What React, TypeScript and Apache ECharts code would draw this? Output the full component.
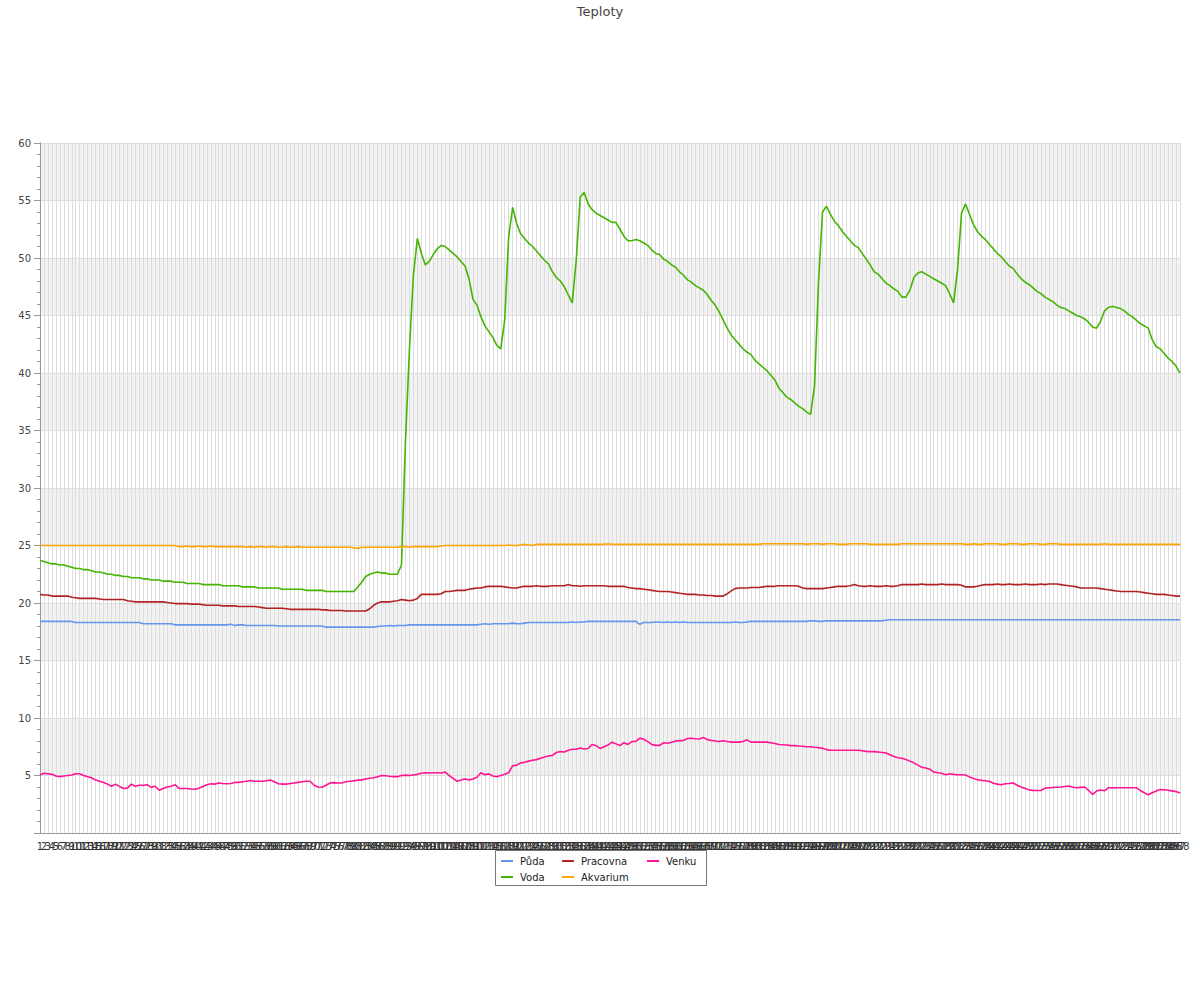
import React, { useEffect, useRef } from "react";
import * as echarts from "echarts";

const categories: string[] = Array.from({ length: 288 }, (_, i) => String(i + 1));

const seriesNames = ["Půda", "Voda", "Pracovna", "Akvarium", "Venku"];
const seriesColors = ["#6495ED", "#44B500", "#B22222", "#FFA500", "#FF1493"];

const puda = [
  18.4, 18.4, 18.4, 18.4, 18.4, 18.4, 18.4, 18.4, 18.4, 18.3,
  18.3, 18.3, 18.3, 18.3, 18.3, 18.3, 18.3, 18.3, 18.3, 18.3,
  18.3, 18.3, 18.3, 18.3, 18.3, 18.3, 18.2, 18.2, 18.2, 18.2,
  18.2, 18.2, 18.2, 18.2, 18.1, 18.1, 18.1, 18.1, 18.1, 18.1,
  18.1, 18.1, 18.1, 18.1, 18.1, 18.1, 18.1, 18.1, 18.15, 18.05,
  18.1, 18.1, 18.05, 18.05, 18.05, 18.05, 18.05, 18.05, 18.05, 18.05,
  18.0, 18.0, 18.0, 18.0, 18.0, 18.0, 18.0, 18.0, 18.0, 18.0,
  18.0, 18.0, 17.9, 17.9, 17.9, 17.9, 17.9, 17.9, 17.9, 17.9,
  17.9, 17.9, 17.9, 17.9, 17.9, 17.95, 18.0, 18.0, 18.05, 18.0,
  18.05, 18.05, 18.05, 18.1, 18.1, 18.1, 18.1, 18.1, 18.1, 18.1,
  18.1, 18.1, 18.1, 18.1, 18.1, 18.1, 18.1, 18.1, 18.1, 18.1,
  18.1, 18.15, 18.2, 18.15, 18.2, 18.2, 18.2, 18.2, 18.2, 18.25,
  18.2, 18.2, 18.25, 18.3, 18.3, 18.3, 18.3, 18.3, 18.3, 18.3,
  18.3, 18.3, 18.3, 18.3, 18.35, 18.3, 18.35, 18.35, 18.4, 18.4,
  18.4, 18.4, 18.4, 18.4, 18.4, 18.4, 18.4, 18.4, 18.4, 18.4,
  18.4, 18.15, 18.3, 18.3, 18.3, 18.35, 18.35, 18.3, 18.35, 18.3,
  18.35, 18.3, 18.35, 18.3, 18.3, 18.3, 18.3, 18.3, 18.3, 18.3,
  18.3, 18.3, 18.3, 18.3, 18.3, 18.35, 18.3, 18.3, 18.35, 18.4,
  18.4, 18.4, 18.4, 18.4, 18.4, 18.4, 18.4, 18.4, 18.4, 18.4,
  18.4, 18.4, 18.4, 18.4, 18.45, 18.45, 18.4, 18.4, 18.45, 18.45,
  18.45, 18.45, 18.45, 18.45, 18.45, 18.45, 18.45, 18.45, 18.45, 18.45,
  18.45, 18.45, 18.45, 18.5, 18.55, 18.55, 18.55, 18.55, 18.55, 18.55,
  18.55, 18.55, 18.55, 18.55, 18.55, 18.55, 18.55, 18.55, 18.55, 18.55,
  18.55, 18.55, 18.55, 18.55, 18.55, 18.55, 18.55, 18.55, 18.55, 18.55,
  18.55, 18.55, 18.55, 18.55, 18.55, 18.55, 18.55, 18.55, 18.55, 18.55,
  18.55, 18.55, 18.55, 18.55, 18.55, 18.55, 18.55, 18.55, 18.55, 18.55,
  18.55, 18.55, 18.55, 18.55, 18.55, 18.55, 18.55, 18.55, 18.55, 18.55,
  18.55, 18.55, 18.55, 18.55, 18.55, 18.55, 18.55, 18.55, 18.55, 18.55,
  18.55, 18.55, 18.55, 18.55, 18.55, 18.55, 18.55, 18.55,
];

const voda = [
  23.7, 23.6, 23.5, 23.4, 23.4, 23.3, 23.3, 23.2, 23.1, 23.0,
  23.0, 22.9, 22.9, 22.8, 22.7, 22.7, 22.6, 22.5, 22.5, 22.4,
  22.4, 22.3, 22.3, 22.2, 22.2, 22.2, 22.1, 22.1, 22.0, 22.0,
  22.0, 21.9, 21.9, 21.9, 21.8, 21.8, 21.8, 21.7, 21.7, 21.7,
  21.7, 21.6, 21.6, 21.6, 21.6, 21.6, 21.5, 21.5, 21.5, 21.5,
  21.5, 21.4, 21.4, 21.4, 21.4, 21.3, 21.3, 21.3, 21.3, 21.3,
  21.3, 21.2, 21.2, 21.2, 21.2, 21.2, 21.2, 21.1, 21.1, 21.1,
  21.1, 21.1, 21.0, 21.0, 21.0, 21.0, 21.0, 21.0, 21.0, 21.0,
  21.4, 21.8, 22.3, 22.5, 22.6, 22.7, 22.6, 22.6, 22.5, 22.5,
  22.5, 23.3, 34.0, 42.0, 48.5, 51.7, 50.4, 49.4, 49.7, 50.3,
  50.8, 51.1, 51.0, 50.7, 50.4, 50.1, 49.7, 49.3, 48.2, 46.4,
  45.9, 44.9, 44.1, 43.6, 43.1, 42.4, 42.1, 44.6, 51.9, 54.4,
  53.0, 52.1, 51.7, 51.3, 51.0, 50.6, 50.2, 49.8, 49.5, 48.8,
  48.3, 48.0, 47.5, 46.8, 46.1, 49.8, 55.3, 55.7, 54.7, 54.2,
  53.9, 53.7, 53.5, 53.3, 53.1, 53.1, 52.5, 51.9, 51.5, 51.5,
  51.6, 51.5, 51.3, 51.1, 50.7, 50.4, 50.3, 49.9, 49.7, 49.4,
  49.2, 48.8, 48.5, 48.1, 47.9, 47.6, 47.4, 47.2, 46.8, 46.3,
  45.9, 45.3, 44.6, 43.9, 43.3, 42.9, 42.5, 42.1, 41.8, 41.6,
  41.1, 40.8, 40.5, 40.2, 39.8, 39.4, 38.7, 38.3, 37.9, 37.7,
  37.4, 37.1, 36.9, 36.6, 36.4, 38.9, 47.9, 54.0, 54.5, 53.8,
  53.2, 52.8, 52.3, 51.9, 51.5, 51.1, 50.9, 50.4, 49.9, 49.4,
  48.8, 48.6, 48.2, 47.8, 47.6, 47.3, 47.1, 46.6, 46.6, 47.2,
  48.3, 48.7, 48.8, 48.6, 48.4, 48.2, 48.0, 47.8, 47.6, 46.9,
  46.1, 49.0, 53.9, 54.7, 53.8, 52.9, 52.3, 51.9, 51.6, 51.2,
  50.8, 50.4, 50.1, 49.7, 49.3, 49.1, 48.6, 48.2, 47.9, 47.7,
  47.4, 47.1, 46.9, 46.6, 46.4, 46.2, 45.9, 45.7, 45.6, 45.4,
  45.2, 45.0, 44.9, 44.7, 44.4, 44.0, 43.9, 44.5, 45.4, 45.7,
  45.8, 45.7, 45.6, 45.4, 45.1, 44.9, 44.6, 44.3, 44.1, 43.9,
  42.9, 42.3, 42.1, 41.7, 41.3, 41.0, 40.6, 40.0,
];

const pracovna = [
  20.75, 20.7, 20.7, 20.6, 20.6, 20.6, 20.6, 20.6, 20.5, 20.45,
  20.4, 20.4, 20.4, 20.4, 20.4, 20.35, 20.3, 20.3, 20.3, 20.3,
  20.3, 20.3, 20.2, 20.15, 20.1, 20.1, 20.1, 20.1, 20.1, 20.1,
  20.1, 20.1, 20.05, 20.0, 19.95, 19.95, 19.95, 19.95, 19.9, 19.9,
  19.9, 19.85, 19.8, 19.8, 19.8, 19.8, 19.75, 19.75, 19.75, 19.75,
  19.7, 19.7, 19.7, 19.7, 19.7, 19.65, 19.6, 19.55, 19.55, 19.55,
  19.55, 19.55, 19.5, 19.45, 19.45, 19.45, 19.45, 19.45, 19.45, 19.45,
  19.45, 19.4, 19.4, 19.35, 19.35, 19.35, 19.35, 19.3, 19.3, 19.3,
  19.3, 19.3, 19.3, 19.5, 19.8, 20.0, 20.1, 20.1, 20.1, 20.15,
  20.2, 20.3, 20.25, 20.2, 20.25, 20.4, 20.75, 20.75, 20.75, 20.75,
  20.75, 20.8, 21.0, 21.0, 21.05, 21.1, 21.1, 21.1, 21.2, 21.25,
  21.3, 21.3, 21.4, 21.45, 21.45, 21.45, 21.45, 21.4, 21.35, 21.3,
  21.3, 21.4, 21.45, 21.45, 21.45, 21.5, 21.45, 21.45, 21.45, 21.5,
  21.5, 21.5, 21.5, 21.6, 21.5, 21.5, 21.45, 21.5, 21.5, 21.5,
  21.5, 21.5, 21.5, 21.45, 21.45, 21.45, 21.45, 21.45, 21.35, 21.3,
  21.25, 21.25, 21.2, 21.15, 21.1, 21.05, 21.0, 21.0, 21.0, 20.95,
  20.9, 20.85, 20.8, 20.75, 20.75, 20.75, 20.7, 20.7, 20.65, 20.65,
  20.6, 20.6, 20.6, 20.8, 21.05, 21.25, 21.3, 21.3, 21.3, 21.35,
  21.35, 21.35, 21.4, 21.45, 21.45, 21.45, 21.5, 21.5, 21.5, 21.5,
  21.5, 21.45, 21.3, 21.25, 21.25, 21.25, 21.25, 21.25, 21.3, 21.35,
  21.4, 21.45, 21.45, 21.45, 21.5, 21.6, 21.5, 21.45, 21.45, 21.5,
  21.45, 21.45, 21.45, 21.5, 21.45, 21.45, 21.5, 21.6, 21.6, 21.6,
  21.6, 21.6, 21.65, 21.6, 21.6, 21.6, 21.6, 21.65, 21.6, 21.6,
  21.6, 21.6, 21.55, 21.4, 21.4, 21.4, 21.45, 21.55, 21.6, 21.6,
  21.6, 21.65, 21.6, 21.6, 21.65, 21.6, 21.6, 21.6, 21.65, 21.6,
  21.6, 21.6, 21.65, 21.6, 21.65, 21.65, 21.65, 21.6, 21.55, 21.5,
  21.45, 21.4, 21.3, 21.3, 21.3, 21.3, 21.3, 21.25, 21.2, 21.15,
  21.1, 21.05, 21.0, 21.0, 21.0, 21.0, 21.0, 20.95, 20.9, 20.85,
  20.8, 20.75, 20.75, 20.75, 20.7, 20.65, 20.6, 20.6,
];

const akvarium = [
  25.0, 25.0, 25.0, 25.0, 25.0, 25.0, 25.0, 25.0, 25.0, 25.0,
  25.0, 25.0, 25.0, 25.0, 25.0, 25.0, 25.0, 25.0, 25.0, 25.0,
  25.0, 25.0, 25.0, 25.0, 25.0, 25.0, 25.0, 25.0, 25.0, 25.0,
  25.0, 25.0, 25.0, 25.0, 25.0, 24.9, 24.9, 24.95, 24.9, 24.9,
  24.95, 24.9, 24.9, 24.95, 24.9, 24.9, 24.9, 24.9, 24.9, 24.9,
  24.9, 24.9, 24.85, 24.9, 24.85, 24.9, 24.9, 24.85, 24.9, 24.9,
  24.85, 24.85, 24.9, 24.85, 24.85, 24.9, 24.85, 24.85, 24.85, 24.85,
  24.85, 24.85, 24.85, 24.85, 24.85, 24.85, 24.85, 24.85, 24.85, 24.8,
  24.75, 24.85, 24.85, 24.85, 24.85, 24.85, 24.85, 24.85, 24.85, 24.85,
  24.85, 24.9, 24.9, 24.85, 24.9, 24.9, 24.9, 24.9, 24.9, 24.9,
  24.9, 24.95, 25.0, 25.0, 25.0, 25.0, 25.0, 25.0, 25.0, 25.0,
  25.0, 25.0, 25.0, 25.0, 25.0, 25.0, 25.0, 25.0, 25.05, 25.0,
  25.0, 25.05, 25.1, 25.05, 25.0, 25.1, 25.1, 25.1, 25.1, 25.1,
  25.1, 25.1, 25.1, 25.1, 25.1, 25.1, 25.1, 25.1, 25.1, 25.1,
  25.1, 25.1, 25.1, 25.15, 25.1, 25.1, 25.1, 25.1, 25.1, 25.1,
  25.1, 25.1, 25.1, 25.1, 25.1, 25.1, 25.1, 25.1, 25.1, 25.1,
  25.1, 25.1, 25.1, 25.1, 25.1, 25.1, 25.1, 25.1, 25.1, 25.1,
  25.1, 25.1, 25.1, 25.1, 25.1, 25.1, 25.1, 25.1, 25.1, 25.1,
  25.1, 25.1, 25.15, 25.15, 25.15, 25.15, 25.15, 25.15, 25.15, 25.15,
  25.15, 25.15, 25.15, 25.1, 25.15, 25.15, 25.15, 25.1, 25.15, 25.15,
  25.15, 25.1, 25.1, 25.1, 25.15, 25.15, 25.15, 25.15, 25.15, 25.1,
  25.1, 25.1, 25.1, 25.1, 25.1, 25.1, 25.1, 25.15, 25.15, 25.15,
  25.15, 25.15, 25.15, 25.15, 25.15, 25.15, 25.15, 25.15, 25.15, 25.15,
  25.15, 25.15, 25.15, 25.1, 25.1, 25.15, 25.1, 25.1, 25.15, 25.15,
  25.15, 25.15, 25.1, 25.1, 25.15, 25.15, 25.15, 25.1, 25.1, 25.15,
  25.15, 25.15, 25.1, 25.1, 25.15, 25.15, 25.15, 25.1, 25.1, 25.1,
  25.1, 25.1, 25.1, 25.1, 25.1, 25.1, 25.1, 25.1, 25.15, 25.1,
  25.1, 25.1, 25.1, 25.1, 25.1, 25.1, 25.1, 25.1, 25.1, 25.1,
  25.1, 25.1, 25.1, 25.1, 25.1, 25.1, 25.1, 25.1,
];

const venku = [
  5.05, 5.2, 5.15, 5.1, 4.95, 4.9, 4.95, 5.0, 5.05, 5.15,
  5.15, 5.0, 4.9, 4.8, 4.6, 4.5, 4.4, 4.25, 4.07, 4.25,
  4.05, 3.87, 3.9, 4.25, 4.07, 4.15, 4.15, 4.2, 3.97, 4.07,
  3.72, 3.87, 4.0, 4.07, 4.2, 3.87, 3.87, 3.87, 3.82, 3.8,
  3.9, 4.05, 4.2, 4.28, 4.25, 4.35, 4.3, 4.28, 4.3, 4.4,
  4.4, 4.45, 4.5, 4.56, 4.5, 4.5, 4.5, 4.55, 4.6, 4.45,
  4.28, 4.25, 4.25, 4.3, 4.35, 4.4, 4.45, 4.5, 4.5, 4.15,
  4.0, 3.98, 4.15, 4.35, 4.38, 4.35, 4.35, 4.45, 4.5, 4.55,
  4.6, 4.62, 4.7, 4.76, 4.8, 4.9, 5.0, 4.98, 4.93, 4.9,
  4.9, 5.0, 5.03, 5.0, 5.05, 5.1, 5.2, 5.24, 5.22, 5.24,
  5.24, 5.22, 5.3, 5.0, 4.75, 4.5, 4.6, 4.7, 4.62, 4.7,
  4.85, 5.24, 5.07, 5.14, 4.95, 4.9, 5.0, 5.1, 5.24, 5.85,
  5.9, 6.1, 6.15, 6.25, 6.33, 6.38, 6.5, 6.6, 6.7, 6.75,
  7.0, 7.08, 7.05, 7.2, 7.28, 7.28, 7.4, 7.3, 7.35, 7.7,
  7.6, 7.35, 7.5, 7.65, 7.9, 7.75, 7.6, 7.85, 7.7, 7.95,
  7.97, 8.25, 8.15, 7.95, 7.7, 7.62, 7.62, 7.85, 7.8, 7.9,
  8.0, 8.03, 8.05, 8.22, 8.24, 8.2, 8.17, 8.3, 8.12, 8.05,
  8.0, 7.95, 8.03, 7.95, 7.9, 7.9, 7.9, 7.95, 8.1, 7.9,
  7.9, 7.9, 7.9, 7.9, 7.85, 7.78, 7.7, 7.68, 7.65, 7.6,
  7.6, 7.56, 7.55, 7.5, 7.5, 7.45, 7.42, 7.38, 7.25, 7.2,
  7.2, 7.2, 7.2, 7.2, 7.2, 7.2, 7.2, 7.15, 7.1, 7.08,
  7.08, 7.05, 7.0, 6.95, 6.8, 6.65, 6.55, 6.5, 6.4, 6.25,
  6.1, 5.9, 5.72, 5.65, 5.55, 5.3, 5.24, 5.2, 5.07, 5.15,
  5.1, 5.07, 5.07, 5.05, 4.88, 4.75, 4.62, 4.58, 4.55, 4.5,
  4.32, 4.25, 4.2, 4.28, 4.3, 4.35, 4.15, 4.0, 3.88, 3.75,
  3.7, 3.7, 3.7, 3.9, 3.94, 3.96, 3.98, 4.0, 4.05, 4.08,
  3.98, 3.94, 3.97, 4.0, 3.7, 3.36, 3.65, 3.74, 3.67, 3.94,
  3.94, 3.94, 3.94, 3.94, 3.94, 3.94, 3.94, 3.7, 3.5, 3.33,
  3.5, 3.66, 3.78, 3.76, 3.72, 3.66, 3.6, 3.47,
];

const yTicks = { min: 0, max: 60, interval: 5 };

const FONT = "DejaVu Sans";

export default function App() {
  const ref = useRef<HTMLDivElement>(null);

  useEffect(() => {
    if (!ref.current) return;
    const chart = echarts.init(ref.current, undefined, { renderer: "svg" });
    const allData = [puda, voda, pracovna, akvarium, venku];
    const legendBase = {
      orient: "vertical" as const,
      top: 855,
      icon: "rect",
      itemWidth: 12,
      itemHeight: 2,
      itemGap: 4,
      padding: 0,
      selectedMode: true,
      textStyle: { fontSize: 10, fontFamily: FONT, color: "#222", lineHeight: 12, padding: [0, 0, 0, 2] },
    };
    chart.setOption({
      animation: false,
      backgroundColor: "#ffffff",
      title: {
        text: "Teploty",
        left: "center",
        top: 0,
        textStyle: { fontSize: 13, fontWeight: "normal", color: "#444", fontFamily: FONT },
      },
      grid: { left: 40, right: 20, top: 143, bottom: 167, containLabel: false, outerBoundsMode: "none" },
      legend: [
        { ...legendBase, left: 501, data: [seriesNames[0], seriesNames[1]] },
        { ...legendBase, left: 562, data: [seriesNames[2], seriesNames[3]] },
        { ...legendBase, left: 647, data: [seriesNames[4]] },
      ],
      graphic: [
        {
          type: "rect",
          z: 0,
          shape: { x: 495.5, y: 850.5, width: 211, height: 35 },
          style: { fill: "none", stroke: "#777", lineWidth: 1 },
          silent: true,
        },
      ],
      xAxis: {
        type: "category",
        data: categories,
        boundaryGap: false,
        axisLine: { show: true, lineStyle: { color: "#999" } },
        axisTick: { show: false },
        axisLabel: { interval: 0, fontSize: 10, color: "#333", margin: 8, fontFamily: FONT, hideOverlap: false },
        splitLine: { show: true, interval: 0, lineStyle: { color: "#dddddd", width: 1 } },
      },
      yAxis: {
        type: "value",
        min: yTicks.min,
        max: yTicks.max,
        interval: yTicks.interval,
        axisLine: { show: true, lineStyle: { color: "#999" } },
        axisTick: { show: true, length: 6, lineStyle: { color: "#999" } },
        minorTick: { show: true, splitNumber: 5, length: 3, lineStyle: { color: "#999" } },
        axisLabel: {
          margin: 9,
          fontSize: 10,
          color: "#444",
          fontFamily: FONT,
          formatter: (v: number) => (v === 0 ? "" : String(v)),
        },
        splitLine: { show: true, lineStyle: { color: "#dddddd" } },
        splitArea: { show: true, areaStyle: { color: ["#ffffff", "#f2f2f2"] } },
      },
      series: seriesNames.map((name, i) => ({
        name,
        type: "line",
        data: allData[i],
        showSymbol: false,
        symbol: "none",
        color: seriesColors[i],
        lineStyle: { width: 1.6, color: seriesColors[i] },
      })),
    });
    return () => chart.dispose();
  }, []);

  return (
    <div
      ref={ref}
      style={{ position: "absolute", left: 0, top: 0, width: 1200, height: 1000 }}
    />
  );
}
